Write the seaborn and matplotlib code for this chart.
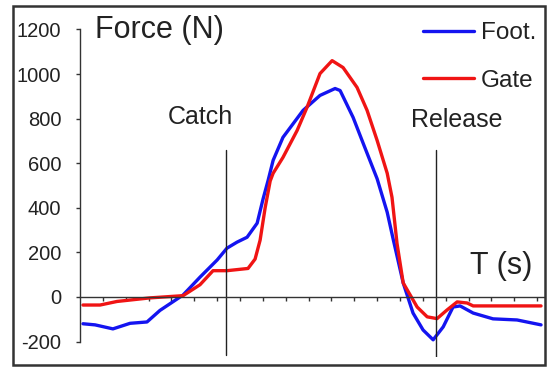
import matplotlib
matplotlib.use("Agg")
import matplotlib.pyplot as plt
import seaborn as sns
import pandas as pd
from matplotlib.patches import Rectangle

# ---- data (time in tick units, force in N) ----
foot_t = [0.13, 0.66, 1.44, 2.19, 2.93, 3.50, 3.94, 4.51, 5.25, 6.00, 6.43, 6.87, 7.31,
          7.75, 8.01, 8.23, 8.45, 8.88, 9.76, 10.50, 11.16, 11.38, 11.95, 12.39,
          13.00, 13.44, 13.70, 14.14, 14.57, 15.01, 15.45, 15.89, 16.32, 16.63, 17.20,
          18.07, 19.12, 20.17]
foot_f = [-120, -125, -143, -118, -112, -60, -30, 9, 89, 166, 219, 246, 268,
          331, 440, 523, 613, 716, 837, 904, 935, 926, 805, 689,
          530, 380, 260, 63, -72, -148, -192, -134, -45, -40, -72,
          -98, -103, -125]
gate_t = [0.13, 0.88, 1.62, 3.06, 4.51, 5.25, 5.82, 6.43, 7.35, 7.66, 7.88, 8.10, 8.32,
          8.45, 8.88, 9.50, 9.93, 10.50, 11.03, 11.51, 12.12, 12.56, 13.00, 13.44, 13.65,
          13.87, 14.14, 14.75, 15.19, 15.62, 16.06, 16.50, 16.94, 17.20, 20.17]
gate_f = [-36, -36, -20, -4, 6, 55, 118, 118, 128, 170, 255, 400, 520,
          555, 626, 747, 850, 1002, 1060, 1029, 940, 837, 702, 555, 447,
          240, 63, -45, -89, -97, -58, -22, -27, -40, -40]
series_names = ["Foot.", "Gate"]
yticks = [-200, 0, 200, 400, 600, 800, 1000, 1200]
xticks = list(range(1, 21))
catch_t = 6.39
release_t = 15.58

df = pd.concat([
    pd.DataFrame({"t": foot_t, "F": foot_f, "series": series_names[0]}),
    pd.DataFrame({"t": gate_t, "F": gate_f, "series": series_names[1]}),
])

sns.set_style("white")
plt.rcParams["font.family"] = ["Liberation Sans", "DejaVu Sans"]

fig = plt.figure(figsize=(5.49, 3.67), dpi=100)
ax = fig.add_axes([80/549, (367-357.2)/367, (544-80)/549, 330/367])

sns.lineplot(data=df, x="t", y="F", hue="series", sort=False,
             palette={"Foot.": "#1414f0", "Gate": "#f01414"}, lw=2.4, ax=ax,
             estimator=None)
for ln in ax.get_lines():
    ln.set_solid_joinstyle("round")

ax.set_xlim(0, 20.3)
ax.set_ylim(-270, 1210)
ax.set_xlabel("")
ax.set_ylabel("")

for s in ["top", "right"]:
    ax.spines[s].set_visible(False)
ax.spines["left"].set_bounds(-200, 1200)
ax.spines["bottom"].set_position(("data", 0))
for s in ["left", "bottom"]:
    ax.spines[s].set_color("#333333")
    ax.spines[s].set_linewidth(1.0)

ax.set_yticks(yticks)
ax.set_yticklabels([str(v) for v in yticks], fontsize=14.5, color="#222222")
ax.set_xticks(xticks)
ax.set_xticklabels([])
ax.tick_params(axis="y", direction="out", length=3, width=1, pad=10.5, color="#333333", left=True)
ax.tick_params(axis="x", direction="out", length=3, width=1, color="#333333", bottom=True)

ax.plot([catch_t, catch_t], [-260, 658], color="#222222", lw=1.0)
ax.plot([release_t, release_t], [-269, 658], color="#222222", lw=1.0)

ax.text(5.25, 807, "Catch", fontsize=18, ha="center", va="center", color="#222222")
ax.text(16.5, 794, "Release", fontsize=18, ha="center", va="center", color="#222222")
ax.text(0.66, 1197, "Force (N)", fontsize=22, ha="left", va="center", color="#222222")
ax.text(17.07, 139, "T (s)", fontsize=22, ha="left", va="center", color="#222222")

leg = ax.legend(loc="upper right", bbox_to_anchor=(1.005, 1.045), frameon=False,
                fontsize=17.5, handlelength=2.1, handletextpad=0.3, labelspacing=1.05,
                borderaxespad=0.0)
for line in leg.get_lines():
    line.set_linewidth(2.4)
for t in leg.get_texts():
    t.set_color("#222222")

fig.patches.append(Rectangle((13/549, 2/367), (545-13)/549, (361-2)/367,
                             transform=fig.transFigure, fill=False,
                             edgecolor="#333333", lw=1.8))

fig.savefig("out.png", dpi=100)
